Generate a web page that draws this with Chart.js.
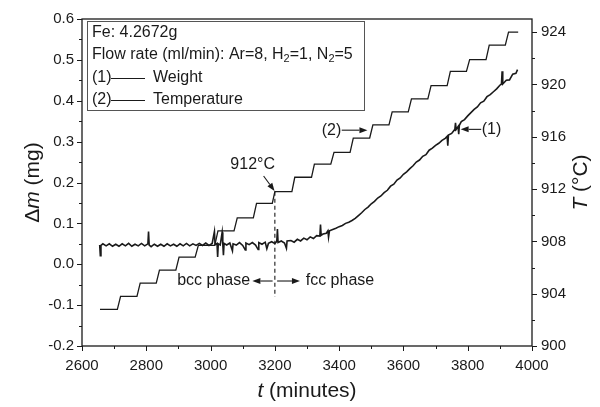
<!DOCTYPE html>
<html>
<head>
<meta charset="utf-8">
<script src="https://cdn.jsdelivr.net/npm/chart.js@4.4.0/dist/chart.umd.min.js"></script>
<style>
html, body { margin: 0; padding: 0; background: #fff; }
#wrap { width: 600px; height: 407px; }
</style>
</head>
<body>
<div id="wrap"><canvas id="chart" width="600" height="407"></canvas></div>
<script>
// weight trace (minutes, mg)
const weightTimes = [
  2655, 2657, 2659, 2665, 2675, 2685, 2695, 2705, 2715, 2725, 2735, 2745, 2755, 2765, 2775, 2785, 2795, 2805, 2807, 2809,
  2815, 2825, 2835, 2845, 2855, 2865, 2875, 2885, 2895, 2905, 2915, 2925, 2935, 2945, 2955, 2965, 2975, 2985, 2995, 3005,
  3012, 3014, 3020, 3022, 3024, 3030, 3036, 3038, 3040, 3042, 3050, 3060, 3068, 3070, 3080, 3090, 3100, 3108, 3110, 3120,
  3130, 3140, 3148, 3150, 3160, 3170, 3175, 3180, 3190, 3200, 3206, 3208, 3210, 3220, 3230, 3236, 3238, 3250, 3260, 3270,
  3280, 3290, 3300, 3310, 3320, 3330, 3340, 3342, 3344, 3350, 3360, 3365, 3367, 3370, 3380, 3390, 3400, 3410, 3420, 3430,
  3440, 3450, 3460, 3470, 3480, 3490, 3500, 3510, 3520, 3530, 3540, 3550, 3560, 3570, 3580, 3590, 3600, 3610, 3620, 3630,
  3640, 3650, 3660, 3670, 3680, 3690, 3700, 3710, 3720, 3730, 3736, 3738, 3740, 3750, 3760, 3762, 3764, 3770, 3772, 3774,
  3780, 3790, 3800, 3810, 3820, 3830, 3840, 3850, 3860, 3870, 3880, 3890, 3900, 3905, 3907, 3909, 3920, 3930, 3940, 3950,
  3955
]
const weightMass = [
  0.047, 0.021, 0.046, 0.050, 0.045, 0.050, 0.044, 0.049, 0.044, 0.050, 0.045, 0.051, 0.044, 0.049, 0.045, 0.051, 0.045, 0.050, 0.080, 0.047,
  0.043, 0.049, 0.044, 0.049, 0.044, 0.050, 0.045, 0.049, 0.044, 0.050, 0.045, 0.051, 0.045, 0.050, 0.046, 0.051, 0.046, 0.052, 0.046, 0.051,
  0.080, 0.048, 0.051, 0.018, 0.050, 0.047, 0.078, 0.049, 0.022, 0.051, 0.047, 0.052, 0.033, 0.050, 0.047, 0.053, 0.046, 0.035, 0.052, 0.048,
  0.053, 0.047, 0.036, 0.053, 0.049, 0.054, 0.038, 0.051, 0.055, 0.051, 0.056, 0.086, 0.053, 0.057, 0.052, 0.039, 0.057, 0.058, 0.054, 0.061,
  0.057, 0.064, 0.060, 0.067, 0.063, 0.070, 0.069, 0.097, 0.071, 0.074, 0.076, 0.082, 0.066, 0.082, 0.085, 0.088, 0.092, 0.095, 0.100, 0.103,
  0.107, 0.112, 0.119, 0.126, 0.134, 0.140, 0.148, 0.154, 0.162, 0.167, 0.175, 0.181, 0.191, 0.196, 0.206, 0.211, 0.220, 0.226, 0.234, 0.241,
  0.250, 0.255, 0.264, 0.268, 0.279, 0.284, 0.291, 0.296, 0.303, 0.308, 0.313, 0.290, 0.316, 0.320, 0.330, 0.346, 0.330, 0.337, 0.318, 0.340,
  0.349, 0.354, 0.363, 0.371, 0.379, 0.385, 0.395, 0.399, 0.410, 0.415, 0.422, 0.429, 0.438, 0.441, 0.472, 0.441, 0.450, 0.451, 0.465, 0.467,
  0.476
]

// temperature staircase: start and end of each hold (minutes, degC)
const tempTimes = [
  2656, 2710, 2720, 2771, 2781, 2831, 2841, 2892, 2902, 2952, 2962, 3013, 3023, 3073, 3083, 3133, 3143, 3192, 3200, 3253, 3262, 3314,
  3323, 3374, 3384, 3434, 3444, 3495, 3505, 3555, 3565, 3615, 3625, 3676, 3686, 3736, 3746, 3796, 3806, 3857, 3867, 3917, 3927, 3957
]
const tempValues = [
  902.8, 902.8, 903.8, 903.8, 904.8, 904.8, 905.8, 905.8, 906.8, 906.8, 907.7, 907.7, 908.8, 908.8, 909.8, 909.8, 910.9, 910.9, 911.8, 911.8, 912.9, 912.9,
  913.9, 913.9, 914.8, 914.8, 915.9, 915.9, 916.9, 916.9, 917.9, 917.9, 918.9, 918.9, 919.9, 919.9, 921.0, 921.0, 921.9, 921.9, 923.0, 923.0, 924.0, 924.0
]

const timeTicks = [2600, 2800, 3000, 3200, 3400, 3600, 3800, 4000]
const massTicks = [-0.2, -0.1, 0.0, 0.1, 0.2, 0.3, 0.4, 0.5, 0.6]
const tempTicks = [900, 904, 908, 912, 916, 920, 924]

const INK = '#1a1a1a'
const FONT = '"Liberation Sans", Arial, Helvetica, sans-serif'

function toPoints(xs, ys){
    return xs.map((x, i) => ({x: x, y: ys[i]}))
}

function setTicks(values){
    return (scale) => { scale.ticks = values.map((v) => ({value: v})) }
}

function drawRuns(ctx, runs, x, y, align){
    let total = 0
    runs.forEach((r) => { ctx.font = r.font; r.w = ctx.measureText(r.t).width; total += r.w })
    let cx = align === 'center' ? x - total / 2 : (align === 'right' ? x - total : x)
    ctx.textAlign = 'left'
    ctx.textBaseline = 'middle'
    runs.forEach((r) => {
        ctx.font = r.font
        ctx.fillText(r.t, cx, y + (r.dy || 0))
        cx += r.w
    })
}

function arrow(ctx, x1, y1, x2, y2){
    const a = Math.atan2(y2 - y1, x2 - x1)
    const L = 8, W = 3
    ctx.beginPath()
    ctx.moveTo(x1, y1)
    ctx.lineTo(x2 - L * Math.cos(a), y2 - L * Math.sin(a))
    ctx.stroke()
    ctx.beginPath()
    ctx.moveTo(x2, y2)
    ctx.lineTo(x2 - L * Math.cos(a) + W * Math.sin(a), y2 - L * Math.sin(a) - W * Math.cos(a))
    ctx.lineTo(x2 - L * Math.cos(a) - W * Math.sin(a), y2 - L * Math.sin(a) + W * Math.cos(a))
    ctx.closePath()
    ctx.fill()
}

const decorations = {
    id: 'decorations',
    afterDraw(chart){
        const ctx = chart.ctx
        const area = chart.chartArea
        const sx = chart.scales.x, sw = chart.scales.yW, st = chart.scales.yT
        ctx.save()
        ctx.strokeStyle = INK
        ctx.fillStyle = INK

        // frame
        ctx.lineWidth = 1.3
        ctx.strokeRect(area.left, area.top, area.right - area.left, area.bottom - area.top)

        // tick marks (major + minor, outward)
        ctx.lineWidth = 1
        ctx.beginPath()
        for(let v = 2600; v <= 4000; v += 100){
            const px = Math.round(sx.getPixelForValue(v)) + 0.5
            const len = v % 200 === 0 ? 5 : 3
            ctx.moveTo(px, area.bottom); ctx.lineTo(px, area.bottom + len)
        }
        for(let i = 0; i <= 16; i++){
            const v = -0.2 + i * 0.05
            const py = Math.round(sw.getPixelForValue(v)) + 0.5
            const len = i % 2 === 0 ? 5 : 3
            ctx.moveTo(area.left, py); ctx.lineTo(area.left - len, py)
        }
        for(let v = 900; v <= 924; v += 2){
            const py = Math.round(st.getPixelForValue(v)) + 0.5
            const len = v % 4 === 0 ? 5 : 3
            ctx.moveTo(area.right, py); ctx.lineTo(area.right + len, py)
        }
        ctx.stroke()

        // axis titles
        const tf = '21px ' + FONT, tfi = 'italic 21px ' + FONT
        drawRuns(ctx, [{t: 't', font: tfi}, {t: ' (minutes)', font: tf}], (area.left + area.right) / 2, 391, 'center')
        ctx.save()
        ctx.translate(33, (area.top + area.bottom) / 2)
        ctx.rotate(-Math.PI / 2)
        drawRuns(ctx, [{t: '\u0394', font: tf}, {t: 'm', font: tfi}, {t: ' (mg)', font: tf}], 0, 0, 'center')
        ctx.restore()
        ctx.save()
        ctx.translate(581, (area.top + area.bottom) / 2)
        ctx.rotate(-Math.PI / 2)
        drawRuns(ctx, [{t: 'T', font: tfi}, {t: ' (\u00b0C)', font: tf}], 0, 0, 'center')
        ctx.restore()

        // legend box
        const f = '16px ' + FONT, fs = '11px ' + FONT
        const bx = area.left + 5, by = area.top + 2
        ctx.lineWidth = 1
        ctx.strokeStyle = '#555'
        ctx.strokeRect(bx + 0.5, by + 0.5, 277, 89)
        ctx.strokeStyle = INK
        drawRuns(ctx, [{t: 'Fe: 4.2672g', font: f}], bx + 5, by + 12, 'left')
        drawRuns(ctx, [
            {t: 'Flow rate (ml/min): Ar=8, H', font: f}, {t: '2', font: fs, dy: 4},
            {t: '=1, N', font: f}, {t: '2', font: fs, dy: 4}, {t: '=5', font: f}
        ], bx + 5, by + 34, 'left')
        drawRuns(ctx, [{t: '(1)', font: f}], bx + 5, by + 57, 'left')
        drawRuns(ctx, [{t: '(2)', font: f}], bx + 5, by + 79, 'left')
        drawRuns(ctx, [{t: 'Weight', font: f}], bx + 66, by + 57, 'left')
        drawRuns(ctx, [{t: 'Temperature', font: f}], bx + 66, by + 79, 'left')
        ctx.lineWidth = 1
        ctx.beginPath()
        ctx.moveTo(bx + 24, by + 57.5); ctx.lineTo(bx + 58, by + 57.5)
        ctx.moveTo(bx + 24, by + 79.5); ctx.lineTo(bx + 58, by + 79.5)
        ctx.stroke()

        // annotations
        const X = (t) => sx.getPixelForValue(t)
        const W = (m) => sw.getPixelForValue(m)
        const T = (c) => st.getPixelForValue(c)
        ctx.lineWidth = 1.1
        drawRuns(ctx, [{t: '912\u00b0C', font: f}], X(3131), T(913.9), 'center')
        arrow(ctx, X(3165), T(913.0), X(3199), T(911.85))

        ctx.setLineDash([4, 3])
        ctx.beginPath()
        ctx.moveTo(X(3200), T(911.8)); ctx.lineTo(X(3200), W(-0.08))
        ctx.stroke()
        ctx.setLineDash([])

        drawRuns(ctx, [{t: 'bcc phase', font: f}], X(3123), W(-0.041), 'right')
        arrow(ctx, X(3193), W(-0.041), X(3130), W(-0.041))
        arrow(ctx, X(3207), W(-0.041), X(3278), W(-0.041))
        drawRuns(ctx, [{t: 'fcc phase', font: f}], X(3296), W(-0.041), 'left')

        drawRuns(ctx, [{t: '(2)', font: f}], X(3376), T(916.5), 'center')
        arrow(ctx, X(3408), T(916.5), X(3488), T(916.5))
        drawRuns(ctx, [{t: '(1)', font: f}], X(3874), W(0.330), 'center')
        arrow(ctx, X(3842), W(0.330), X(3778), W(0.330))

        ctx.restore()
    }
}

const tickFont = {family: FONT, size: 15}

new Chart(document.getElementById('chart').getContext('2d'), {
    type: 'line',
    data: {
        datasets: [{
            label: 'Weight',
            data: toPoints(weightTimes, weightMass),
            yAxisID: 'yW',
            borderColor: INK,
            borderWidth: 1.6,
            pointRadius: 0,
            tension: 0,
            fill: false,
        }, {
            label: 'Temperature',
            data: toPoints(tempTimes, tempValues),
            yAxisID: 'yT',
            borderColor: INK,
            borderWidth: 1.3,
            pointRadius: 0,
            tension: 0,
            fill: false,
        }],
    },
    options: {
        responsive: false,
        animation: false,
        events: [],
        layout: {padding: {top: 19, left: 0, right: 0, bottom: 0}},
        plugins: {legend: {display: false}, tooltip: {enabled: false}},
        scales: {
            x: {
                type: 'linear', position: 'bottom', min: 2600, max: 4000,
                afterBuildTicks: setTicks(timeTicks),
                afterFit: (s) => { s.height = 61 },
                grid: {display: false, drawTicks: false},
                border: {display: false},
                ticks: {font: tickFont, color: INK, padding: 11, maxRotation: 0, callback: (v) => String(v)},
            },
            yW: {
                type: 'linear', position: 'left', min: -0.2, max: 0.6,
                afterBuildTicks: setTicks(massTicks),
                afterFit: (s) => { s.width = 82 },
                grid: {display: false, drawTicks: false},
                border: {display: false},
                ticks: {font: tickFont, color: INK, padding: 8, callback: (v) => v.toFixed(1)},
            },
            yT: {
                type: 'linear', position: 'right', min: 900, max: 925,
                afterBuildTicks: setTicks(tempTicks),
                afterFit: (s) => { s.width = 68 },
                grid: {display: false, drawTicks: false},
                border: {display: false},
                ticks: {font: tickFont, color: INK, padding: 9, callback: (v) => String(v)},
            },
        },
    },
    plugins: [decorations],
})
</script>
</body>
</html>
